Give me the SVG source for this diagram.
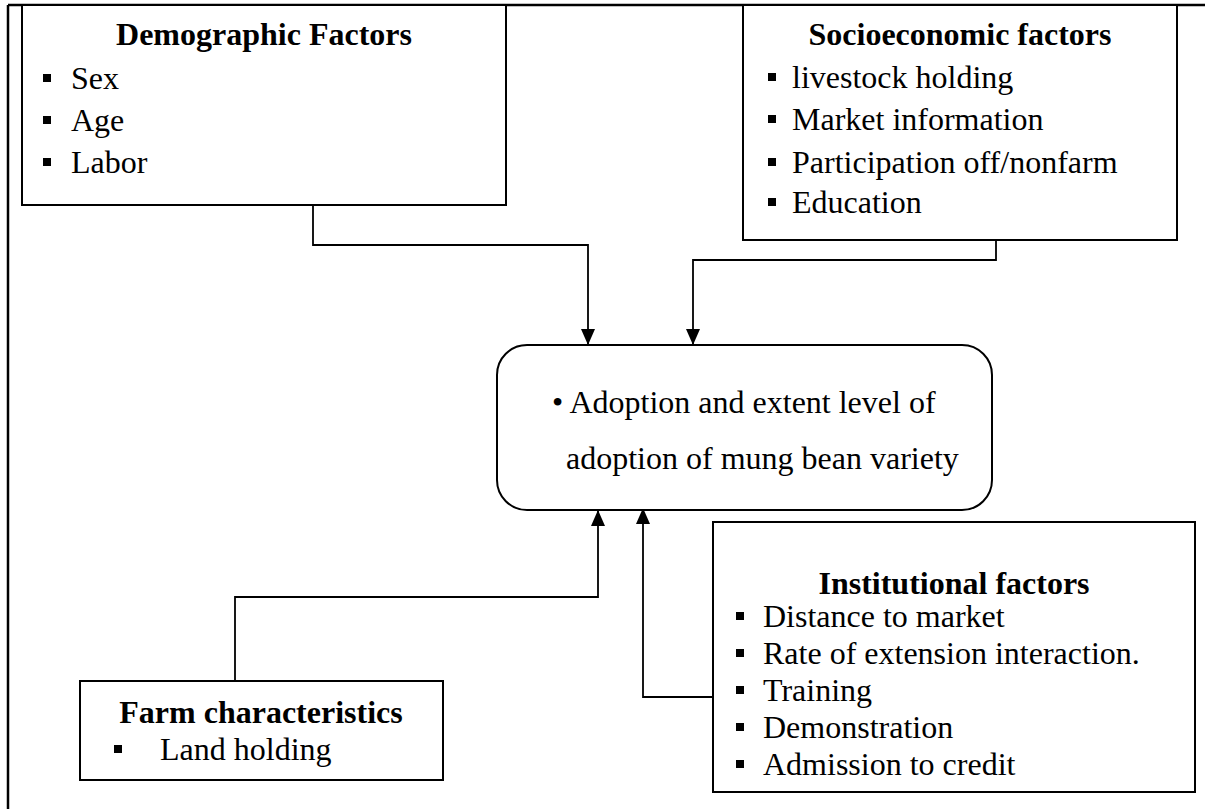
<svg xmlns="http://www.w3.org/2000/svg" width="1205" height="809" viewBox="0 0 1205 809">
<defs>
<style>
.box{fill:#fff;stroke:#000;stroke-width:2}
.frame{fill:none;stroke:#000;stroke-width:2.5}
.t{font-family:"Liberation Serif","Times New Roman",serif;font-size:32px;fill:#000}
.b{font-weight:bold;text-anchor:middle}
.conn{fill:none;stroke:#000;stroke-width:1.8}
.sq{fill:#000}
</style>
<marker id="ah" viewBox="0 0 10 10" refX="10" refY="5" markerWidth="8" markerHeight="9" markerUnits="userSpaceOnUse" orient="auto">
<path d="M0,0 L10,5 L0,10 z" fill="#000"/>
</marker>
<marker id="arr" viewBox="0 0 16 14" refX="16" refY="7" markerWidth="16" markerHeight="14" markerUnits="userSpaceOnUse" orient="auto">
<path d="M0,0 L16,7 L0,14 z" fill="#000"/>
</marker>
</defs>
<rect width="1205" height="809" fill="#fff"/>
<g id="frame">
<line class="frame" x1="8" y1="5" x2="1205" y2="5"/>
<line class="frame" x1="8" y1="5" x2="8" y2="809"/>
</g>
<g id="connectors">
<path class="conn" d="M313,205 V245 H588 V345" marker-end="url(#arr)"/>
<path class="conn" d="M996,240 V260 H693 V345" marker-end="url(#arr)"/>
<path class="conn" d="M235,681 V597 H598 V510" marker-end="url(#arr)"/>
<path class="conn" d="M713,697 H643 V508" marker-end="url(#arr)"/>
</g>
<g id="demographic">
<rect class="box" x="22" y="5" width="484" height="200"/>
<text class="t b" x="264" y="45">Demographic Factors</text>
<rect class="sq" x="43" y="74" width="8" height="8"/>
<text class="t" x="71" y="89">Sex</text>
<rect class="sq" x="43" y="116" width="8" height="8"/>
<text class="t" x="71" y="131">Age</text>
<rect class="sq" x="43" y="158" width="8" height="8"/>
<text class="t" x="71" y="173">Labor</text>
</g>
<g id="socioeconomic">
<rect class="box" x="743" y="5" width="434" height="235"/>
<text class="t b" x="960" y="45">Socioeconomic factors</text>
<rect class="sq" x="768" y="73" width="8" height="8"/>
<text class="t" x="792" y="88">livestock holding</text>
<rect class="sq" x="768" y="115" width="8" height="8"/>
<text class="t" x="792" y="130">Market information</text>
<rect class="sq" x="768" y="158" width="8" height="8"/>
<text class="t" x="792" y="173">Participation off/nonfarm</text>
<rect class="sq" x="768" y="198" width="8" height="8"/>
<text class="t" x="792" y="213">Education</text>
</g>
<g id="adoption">
<rect class="box" x="497" y="345" width="495" height="165" rx="30" ry="30"/>
<text class="t" x="552" y="413">• Adoption and extent level of</text>
<text class="t" x="566" y="469">adoption of mung bean variety</text>
</g>
<g id="farm">
<rect class="box" x="80" y="681" width="363" height="99"/>
<text class="t b" x="261" y="723">Farm characteristics</text>
<rect class="sq" x="114" y="745" width="8" height="8"/>
<text class="t" x="160" y="760">Land holding</text>
</g>
<g id="institutional">
<rect class="box" x="713" y="522" width="482" height="270"/>
<text class="t b" x="954" y="594">Institutional factors</text>
<rect class="sq" x="736" y="612" width="8" height="8"/>
<text class="t" x="763" y="627">Distance to market</text>
<rect class="sq" x="736" y="649" width="8" height="8"/>
<text class="t" x="763" y="664">Rate of extension interaction.</text>
<rect class="sq" x="736" y="686" width="8" height="8"/>
<text class="t" x="763" y="701">Training</text>
<rect class="sq" x="736" y="723" width="8" height="8"/>
<text class="t" x="763" y="738">Demonstration</text>
<rect class="sq" x="736" y="760" width="8" height="8"/>
<text class="t" x="763" y="775">Admission to credit</text>
</g>
</svg>
